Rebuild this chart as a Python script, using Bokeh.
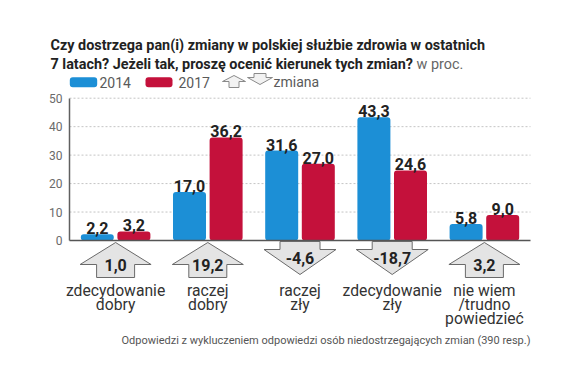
from bokeh.plotting import figure
from bokeh.models import Range1d, LinearAxis, FixedTicker, ColumnDataSource
from bokeh.core.properties import value
from bokeh.embed import file_html
from bokeh.resources import INLINE

# ---------------- data ----------------
categories = [["zdecydowanie", "dobry"], ["raczej", "dobry"], ["raczej", "zły"],
              ["zdecydowanie", "zły"], ["nie wiem", "/trudno", "powiedzieć"]]
series_names = ["2014", "2017"]
values_2014 = [2.2, 17.0, 31.6, 43.3, 5.8]
values_2017 = [3.2, 36.2, 27.0, 24.6, 9.0]
changes = [1.0, 19.2, -4.6, -18.7, 3.2]
y_ticks = [0, 10, 20, 30, 40, 50]
title_bold_1 = "Czy dostrzega pan(i) zmiany w polskiej służbie zdrowia w ostatnich"
title_bold_2 = "7 latach? Jeżeli tak, proszę ocenić kierunek tych zmian?"
title_unit = "w proc."
legend_change = "zmiana"
footnote = "Odpowiedzi z wykluczeniem odpowiedzi osób niedostrzegających zmian (390 resp.)"

# ---------------- layout ----------------
W, H = 565, 364
BORDER = 30         # left border reserved for the (relocated) axis panel
AXIS_X = 69         # page column of x = 0 (the y axis line)
PX_X = 92.2         # pixels per x unit
PX_Y = 2.846        # pixels per y unit
ZERO = 240          # page row of y = 0

BLUE = "#1c8fd6"
RED = "#c4113b"
DARK = "#222222"
GREY = "#5a5a5a"
SANS = "Roboto"


def xpx(page_x):
    return (page_x - AXIS_X) / PX_X


def ypx(page_y):
    return (ZERO - page_y) / PX_Y


def dx(px):
    return px / PX_X


def dy(px):
    return px / PX_Y


def fmt(v):
    return f"{v:.1f}".replace(".", ",")


n = len(values_2014)
centers = [i + 0.5 for i in range(n)]

p = figure(width=W, height=H, output_backend="svg", toolbar_location=None,
           x_range=Range1d(xpx(BORDER), xpx(W)),
           y_range=Range1d(ypx(H), ypx(0)),
           x_axis_location=None, y_axis_location=None,
           min_border_left=BORDER, min_border_right=0, min_border_top=0, min_border_bottom=0)
p.outline_line_color = None
p.xgrid.visible = False
p.ygrid.visible = False

yaxis = LinearAxis(ticker=FixedTicker(ticks=y_ticks), bounds=(y_ticks[0], y_ticks[-1]),
                   fixed_location=0)
yaxis.axis_line_color = "#606060"
yaxis.axis_line_width = 1.5
yaxis.major_tick_in = 0
yaxis.major_tick_out = 0
yaxis.minor_tick_line_color = None
yaxis.major_label_text_font = SANS
yaxis.major_label_text_font_size = "12px"
yaxis.major_label_text_color = "#6a6a6a"
yaxis.major_label_standoff = 7
p.add_layout(yaxis, "left")

# title
p.text(x=[xpx(50), xpx(50)], y=[ypx(45), ypx(63.5)], text=[title_bold_1, title_bold_2],
       text_baseline="alphabetic", text_font=value(SANS), text_font_style="bold",
       text_font_size="14.4px", text_color=DARK)
p.text(x=[xpx(416)], y=[ypx(63.5)], text=[title_unit], text_baseline="alphabetic",
       text_font=value(SANS), text_font_size="14.4px", text_color="#666666")

# legend
leg_y = ypx(81.7)
p.quad(left=[xpx(69.3), xpx(145)], right=[xpx(96.7), xpx(172)],
       top=[leg_y + dy(5)] * 2, bottom=[leg_y - dy(5)] * 2,
       fill_color=[BLUE, RED], line_color=None, border_radius=3)
p.text(x=[xpx(99), xpx(178), xpx(273)], y=[leg_y] * 3, text=series_names + [legend_change],
       text_baseline="middle", text_font=value(SANS), text_font_size="14px",
       text_color=GREY)
ucx, dcx = xpx(233.5), xpx(259.5)
p.patches(
    xs=[[ucx, ucx + dx(11.5), ucx + dx(5), ucx + dx(5), ucx - dx(5), ucx - dx(5), ucx - dx(11.5)],
        [dcx - dx(6), dcx + dx(6), dcx + dx(6), dcx + dx(12.5), dcx, dcx - dx(12.5), dcx - dx(6)]],
    ys=[[ypx(75), ypx(81), ypx(81), ypx(87), ypx(87), ypx(81), ypx(81)],
        [ypx(73), ypx(73), ypx(77), ypx(77), ypx(84), ypx(77), ypx(77)]],
    fill_color="#f2f2f2", line_color="#8a8a8a", line_width=1)

# grid lines
grid_y = y_ticks[1:]
p.segment(x0=[0] * len(grid_y), x1=[n] * len(grid_y), y0=grid_y, y1=grid_y,
          line_color="#c4c4c4", line_width=1, line_dash="2 2")

# bars
off = dx(18.3)
bw = dx(33)
src = ColumnDataSource(dict(
    x1=[c - off for c in centers], x2=[c + off for c in centers],
    v1=values_2014, v2=values_2017,
    t1=[fmt(v) for v in values_2014], t2=[fmt(v) for v in values_2017],
    ty1=[v + dy(6) for v in values_2014], ty2=[v + dy(6) for v in values_2017]))
p.vbar(x="x1", top="v1", bottom=0, width=bw, source=src, fill_color=BLUE,
       line_color=None, border_radius=3)
p.vbar(x="x2", top="v2", bottom=0, width=bw, source=src, fill_color=RED,
       line_color=None, border_radius=3)
p.segment(x0=[0], x1=[n], y0=[0], y1=[0], line_color="#555555", line_width=1.5)

for xs, ts, tys in (("x1", "t1", "ty1"), ("x2", "t2", "ty2")):
    p.text(x=xs, y=tys, text=ts, source=src, text_align="center", text_baseline="alphabetic",
           text_font=value(SANS), text_font_style="bold", text_font_size="16px",
           text_color=DARK)

# change arrows
ax, ay, tx, ty, tt = [], [], [], [], []
for c, ch in zip(centers, changes):
    if ch >= 0:
        wing, shaft = dx(35.5), dx(19)
        top, mid, bot = ypx(242), ypx(264), ypx(277)
        ax.append([c, c + wing, c + shaft, c + shaft, c - shaft, c - shaft, c - wing])
        ay.append([top, mid, mid, bot, bot, mid, mid])
        ty.append(ypx(264))
    else:
        wing, shaft = dx(36), dx(20)
        top, mid, bot = ypx(241), ypx(249), ypx(274)
        ax.append([c - shaft, c + shaft, c + shaft, c + wing, c, c - wing, c - shaft])
        ay.append([top, top, mid, mid, bot, mid, mid])
        ty.append(ypx(257))
    tx.append(c)
    tt.append(fmt(ch))
p.patches(xs=ax, ys=ay, fill_color="#e4e4e4", line_color="#6a6a6a", line_width=1)
p.text(x=tx, y=ty, text=tt, text_align="center", text_baseline="middle",
       text_font=value(SANS), text_font_style="bold", text_font_size="16px", text_color=DARK)

# category labels
lx, ly, lt = [], [], []
for c, lines in zip(centers, categories):
    for k, line in enumerate(lines):
        lx.append(c)
        ly.append(ypx(290 + 14 * k))
        lt.append(line)
p.text(x=lx, y=ly, text=lt, text_align="center", text_baseline="alphabetic",
       text_font=value(SANS), text_font_size="15.7px", text_color="#333333")

# footnote
p.text(x=[xpx(530)], y=[ypx(340)], text=[footnote], text_align="right",
       text_baseline="alphabetic", text_font=value(SANS), text_font_size="11px",
       text_color="#555555")

open("out.html", "w").write(file_html(p, INLINE))
